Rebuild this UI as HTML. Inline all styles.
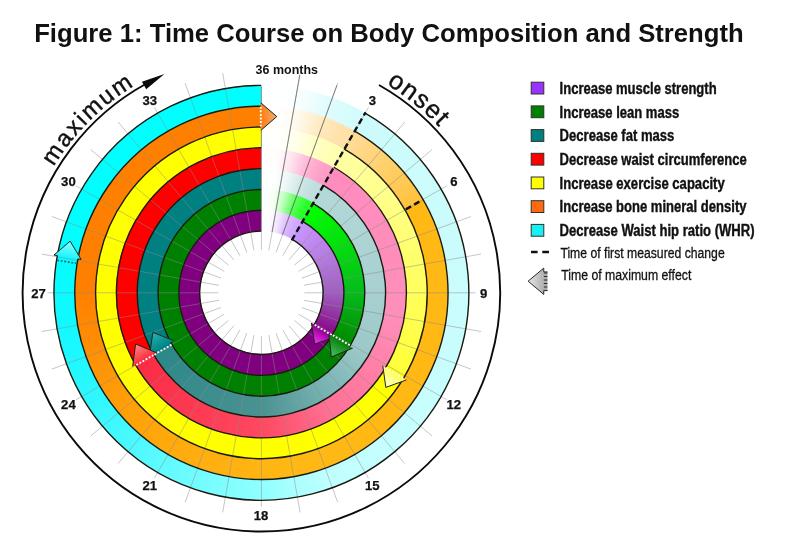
<!DOCTYPE html>
<html lang="en"><head><meta charset="utf-8"><title>Figure 1: Time Course on Body Composition and Strength</title>
<style>
html,body{margin:0;padding:0;background:#fff}
#fig{position:relative;width:800px;height:560px;overflow:hidden;background:#fff;font-family:"Liberation Sans",sans-serif}
.d{position:absolute;border-radius:50%}
svg{position:absolute;left:0;top:0}
text{font-family:"Liberation Sans",sans-serif;fill:#111}
.b{font-weight:bold}
</style></head><body><div id="fig">
<div class="d" style="left:53.96px;top:85.36px;width:414.88px;height:414.88px;background:conic-gradient(#ffffff 0deg,#feffff 7deg,#f3fefe 13deg,#dffcfc 20deg,#d6fcfc 26deg,#d4fcfc 30deg,#cdfbfb 30deg,#c8fefe 130deg,#c0ffff 160deg,#a6ffff 172deg,#90ffff 180deg,#70fcff 200deg,#4cf9ff 220deg,#2cf7ff 240deg,#12f9ff 260deg,#04fcff 280deg,#00ffff 280deg,#00ffff 360deg)"></div>
<div class="d" style="left:74.78px;top:106.18px;width:373.24px;height:373.24px;background:conic-gradient(#ffffff 0deg,#fffefc 7deg,#fff7e6 13deg,#ffe9bd 20deg,#ffe2ab 26deg,#ffe1a5 30deg,#ffdc98 30deg,#ffc23c 60deg,#ffb814 60deg,#ffb814 170deg,#ffb010 195deg,#ffa80c 215deg,#ff9c08 235deg,#ff8c04 255deg,#ff8000 270deg,#ff8000 360deg)"></div>
<div class="d" style="left:95.6px;top:127px;width:331.6px;height:331.6px;background:conic-gradient(#ffffff 0deg,#fffffc 7deg,#ffffe9 13deg,#ffffc5 20deg,#ffffb4 26deg,#ffffb0 30deg,#ffffa4 30deg,#ffff38 120deg,#ffff00 120deg,#ffff00 360deg)"></div>
<div class="d" style="left:116.42px;top:147.82px;width:289.96px;height:289.96px;background:conic-gradient(#ffffff 0deg,#fffcfd 7deg,#ffe3ef 13deg,#ffb5d5 20deg,#ffa1ca 26deg,#ff9bc6 30deg,#ff8cbe 30deg,#ff8eba 100deg,#ff7094 150deg,#ff4860 180deg,#fa2c44 240deg,#ff0000 240deg,#ff0000 360deg)"></div>
<div class="d" style="left:137.24px;top:168.64px;width:248.32px;height:248.32px;background:conic-gradient(#ffffff 0deg,#fdfefe 7deg,#edf6f6 13deg,#cfe6e6 20deg,#c2dfdf 26deg,#bedddd 30deg,#b4d8d8 30deg,#a8d0d0 90deg,#9cc8c8 120deg,#74b0b0 150deg,#4a9292 180deg,#2c8888 240deg,#008080 240deg,#008080 360deg)"></div>
<div class="d" style="left:158.06px;top:189.46px;width:206.68px;height:206.68px;background:conic-gradient(#ffffff 0deg,#f7fff7 7deg,#c2ffc2 13deg,#5cff5c 20deg,#2eff2e 26deg,#21ff21 30deg,#00ff00 30deg,#06bc1c 90deg,#008c00 120deg,#008000 120deg,#008000 360deg)"></div>
<div class="d" style="left:178.88px;top:210.28px;width:165.04px;height:165.04px;background:conic-gradient(#ffffff 0deg,#fdfcff 7deg,#f2e6ff 13deg,#dcbcff 20deg,#d2a9ff 26deg,#cfa4ff 30deg,#c896ff 30deg,#b67ce0 60deg,#a060c0 90deg,#9438a6 105deg,#8a0c8c 120deg,#800080 120deg,#800080 360deg)"></div>
<div class="d" style="left:199.7px;top:231.1px;width:123.4px;height:123.4px;background:#fff"></div>
<svg width="800" height="560" viewBox="0 0 800 560">
<defs>
<linearGradient id="g0" gradientUnits="userSpaceOnUse" x1="323.21" y1="329.94" x2="314.71" y2="344.08"><stop offset="0" stop-color="#8c008c"/><stop offset="1" stop-color="#ff30ff"/></linearGradient>
<linearGradient id="g1" gradientUnits="userSpaceOnUse" x1="340.8" y1="341.1" x2="331.35" y2="357.01"><stop offset="0" stop-color="#0c800c"/><stop offset="1" stop-color="#48c468"/></linearGradient>
<linearGradient id="g2" gradientUnits="userSpaceOnUse" x1="394.6" y1="372.83" x2="385.84" y2="387.4"><stop offset="0" stop-color="#ffff58"/><stop offset="1" stop-color="#ffffd8"/></linearGradient>
<linearGradient id="g3" gradientUnits="userSpaceOnUse" x1="161.64" y1="347.51" x2="152.89" y2="332.35"><stop offset="0" stop-color="#008686"/><stop offset="1" stop-color="#28b4b4"/></linearGradient>
<linearGradient id="g4" gradientUnits="userSpaceOnUse" x1="144.61" y1="359.65" x2="135.61" y2="344.06"><stop offset="0" stop-color="#ff2c3c"/><stop offset="1" stop-color="#ff8c8c"/></linearGradient>
<linearGradient id="g5" gradientUnits="userSpaceOnUse" x1="67.55" y1="257.27" x2="70.11" y2="241.17"><stop offset="0" stop-color="#20f4ff"/><stop offset="1" stop-color="#8cffff"/></linearGradient>
<linearGradient id="g6" gradientUnits="userSpaceOnUse" x1="260.78" y1="116.59" x2="276.78" y2="116.54"><stop offset="0" stop-color="#ff7c10"/><stop offset="1" stop-color="#f2ac70"/></linearGradient>
<linearGradient id="gl" x1="0" y1="0" x2="1" y2="0"><stop offset="0" stop-color="#e6e6e6"/><stop offset="1" stop-color="#a4a4a4"/></linearGradient>
</defs>
<path d="M261.4,249.8 L261.4,86.8 M268.87,250.45 L300.12,73.19 M276.11,252.39 L337.67,83.25 M282.9,255.56 L368.4,107.47 M289.04,259.86 L404.74,121.97 M294.34,265.16 L432.23,149.46 M298.64,271.3 L446.73,185.8 M301.81,278.09 L470.95,216.53 M303.75,285.33 L481.01,254.08 M304.4,292.8 L475.4,292.8 M303.75,300.27 L481.01,331.52 M301.81,307.51 L470.95,369.07 M298.64,314.3 L446.73,399.8 M294.34,320.44 L432.23,436.14 M289.04,325.74 L404.74,463.63 M282.9,330.04 L368.4,478.13 M276.11,333.21 L337.67,502.35 M268.87,335.15 L300.12,512.41 M261.4,335.8 L261.4,506.8 M253.93,335.15 L222.68,512.41 M246.69,333.21 L185.13,502.35 M239.9,330.04 L154.4,478.13 M233.76,325.74 L118.06,463.63 M228.46,320.44 L90.57,436.14 M224.16,314.3 L76.07,399.8 M220.99,307.51 L51.85,369.07 M219.05,300.27 L41.79,331.52 M218.4,292.8 L47.4,292.8 M219.05,285.33 L41.79,254.08 M220.99,278.09 L51.85,216.53 M224.16,271.3 L76.07,185.8 M228.46,265.16 L90.57,149.46 M233.76,259.86 L118.06,121.97 M239.9,255.56 L154.4,107.47 M246.69,252.39 L185.13,83.25 M253.93,250.45 L222.68,73.19" stroke="#8a8a8a" stroke-width="0.8" stroke-opacity="0.62" fill="none"/>
<path d="M272.11,232.04 L299.78,75.16 M282.5,234.82 L336.99,85.13" stroke="#505050" stroke-width="0.7" stroke-opacity="0.85" fill="none"/>
<path d="M292.25,239.37 A61.7 61.7 0 1 1 261.29,231.1 M302.66,221.34 A82.52 82.52 0 1 1 261.26,210.28 M313.07,203.3 A103.34 103.34 0 1 1 261.22,189.46 M323.48,185.27 A124.16 124.16 0 1 1 261.18,168.64 M333.89,167.24 A144.98 144.98 0 1 1 261.15,147.82 M344.3,149.21 A165.8 165.8 0 1 1 261.11,127 M354.71,131.18 A186.62 186.62 0 1 1 261.07,106.18 M365.12,113.15 A207.44 207.44 0 1 1 261.04,85.36" stroke="#1a1a10" stroke-width="1.4" fill="none"/>
<path d="M261.4,231.1 L261.4,85.36" stroke="#555" stroke-width="0.7" stroke-opacity="0.7"/>
<path d="M291.75,240.23 L365.62,112.29" stroke="#111" stroke-width="2.4" stroke-dasharray="6 3.6" fill="none"/>
<path d="M405.85,209.4 L422.58,199.74" stroke="#111" stroke-width="2.4" stroke-dasharray="6 3.6" fill="none"/>
<path d="M335.04,337.05 L314.71,344.08 L311.38,322.83" fill="url(#g0)" stroke="#20241c" stroke-width="1" stroke-linejoin="miter"/>
<path d="M331.7,335.04 L314.72,324.84" stroke="#fff" stroke-width="1.8" stroke-dasharray="2 1.6" fill="none"/>
<path d="M352.66,348.15 L331.35,357.01 L328.93,334.06" fill="url(#g1)" stroke="#20241c" stroke-width="1" stroke-linejoin="miter"/>
<path d="M349.83,345.3 L332.78,335.19" stroke="#fff" stroke-width="1.8" stroke-dasharray="2 1.6" fill="none"/>
<path d="M406.42,379.94 L385.84,387.4 L382.77,365.72" fill="url(#g2)" stroke="#20241c" stroke-width="1" stroke-linejoin="miter"/>
<path d="M403.09,377.94 L386.1,367.73" stroke="#fff" stroke-width="1.8" stroke-dasharray="2 1.6" fill="none"/>
<path d="M149.69,354.41 L152.89,332.35 L173.59,340.61" fill="url(#g3)" stroke="#20241c" stroke-width="1" stroke-linejoin="miter"/>
<path d="M154.31,354.63 L171.47,344.72" stroke="#fff" stroke-width="1.8" stroke-dasharray="2 1.6" fill="none"/>
<path d="M132.66,366.55 L135.61,344.06 L156.56,352.75" fill="url(#g4)" stroke="#20241c" stroke-width="1" stroke-linejoin="miter"/>
<path d="M136.28,365.04 L153.44,355.13" stroke="#fff" stroke-width="1.8" stroke-dasharray="2 1.6" fill="none"/>
<path d="M53.92,255.09 L70.11,241.17 L81.17,259.44" fill="url(#g5)" stroke="#20241c" stroke-width="1" stroke-linejoin="miter"/>
<path d="M53.92,255.09 L57.27,255.63 M81.17,259.44 L77.83,258.9" stroke="#20241c" stroke-width="1" fill="none"/>
<path d="M57.04,260.25 L76.61,263.37" stroke="#0a7a80" stroke-width="1.8" stroke-dasharray="2 1.6" fill="none"/>
<path d="M260.74,102.79 L276.78,116.54 L260.83,130.39" fill="url(#g6)" stroke="#20241c" stroke-width="1" stroke-linejoin="miter"/>
<path d="M260.75,106.68 L260.82,126.5" stroke="#fff" stroke-width="1.8" stroke-dasharray="2 1.6" fill="none"/>
<path d="M378.97,85 A238.75 238.75 0 1 1 145.65,83.98" stroke="#0a0a0a" stroke-width="1.9" fill="none"/>
<path d="M141.96,81.7 L164.45,73.92 L146.2,89.18 Z" fill="#0a0a0a"/>
<path id="pm" d="M33.05,209.69 A243 243 0 0 1 219.2,53.49" fill="none"/>
<path id="po" d="M344.51,64.45 A243 243 0 0 1 489.75,209.69" fill="none"/>
<text font-size="23.5" letter-spacing="2.1" stroke="#111" stroke-width="0.45"><textPath href="#pm" startOffset="47.92">maximum</textPath></text>
<text font-size="25.5" letter-spacing="1.3" stroke="#111" stroke-width="0.4"><textPath href="#po" startOffset="46.44">onset</textPath></text>
<text class="b" font-size="13.1" stroke="#111" stroke-width="0.25" text-anchor="middle" x="372.35" y="104.91">3</text>
<text class="b" font-size="13.1" stroke="#111" stroke-width="0.25" text-anchor="middle" x="453.79" y="186.35">6</text>
<text class="b" font-size="13.1" stroke="#111" stroke-width="0.25" text-anchor="middle" x="483.6" y="297.6">9</text>
<text class="b" font-size="13.1" stroke="#111" stroke-width="0.25" text-anchor="middle" x="453.79" y="408.85">12</text>
<text class="b" font-size="13.1" stroke="#111" stroke-width="0.25" text-anchor="middle" x="372.35" y="490.29">15</text>
<text class="b" font-size="13.1" stroke="#111" stroke-width="0.25" text-anchor="middle" x="261.1" y="520.1">18</text>
<text class="b" font-size="13.1" stroke="#111" stroke-width="0.25" text-anchor="middle" x="149.85" y="490.29">21</text>
<text class="b" font-size="13.1" stroke="#111" stroke-width="0.25" text-anchor="middle" x="68.41" y="408.85">24</text>
<text class="b" font-size="13.1" stroke="#111" stroke-width="0.25" text-anchor="middle" x="38.6" y="297.6">27</text>
<text class="b" font-size="13.1" stroke="#111" stroke-width="0.25" text-anchor="middle" x="68.41" y="186.35">30</text>
<text class="b" font-size="13.1" stroke="#111" stroke-width="0.25" text-anchor="middle" x="149.85" y="104.91">33</text>
<text class="b" font-size="12.6" x="255.6" y="74.4" textLength="62.4" lengthAdjust="spacingAndGlyphs">36 months</text>
<text class="b" font-size="25" x="34.2" y="42.4" textLength="709.5" lengthAdjust="spacingAndGlyphs">Figure 1: Time Course on Body Composition and Strength</text>
<rect x="531.2" y="82.2" width="12.6" height="11.8" fill="#9933ff" stroke="#30302a" stroke-width="1"/>
<text class="b" font-size="15.8" stroke="#111" stroke-width="0.4" x="559.6" y="93.8" textLength="157" lengthAdjust="spacingAndGlyphs">Increase muscle strength</text>
<rect x="531.2" y="105.9" width="12.6" height="11.8" fill="#008000" stroke="#30302a" stroke-width="1"/>
<text class="b" font-size="15.8" stroke="#111" stroke-width="0.4" x="559.6" y="117.5" textLength="119.6" lengthAdjust="spacingAndGlyphs">Increase lean mass</text>
<rect x="531.2" y="129.6" width="12.6" height="11.8" fill="#008080" stroke="#30302a" stroke-width="1"/>
<text class="b" font-size="15.8" stroke="#111" stroke-width="0.4" x="559.6" y="141.2" textLength="114.8" lengthAdjust="spacingAndGlyphs">Decrease fat mass</text>
<rect x="531.2" y="153.3" width="12.6" height="11.8" fill="#ff0000" stroke="#30302a" stroke-width="1"/>
<text class="b" font-size="15.8" stroke="#111" stroke-width="0.4" x="559.6" y="164.9" textLength="187.2" lengthAdjust="spacingAndGlyphs">Decrease waist circumference</text>
<rect x="531.2" y="177" width="12.6" height="11.8" fill="#ffff00" stroke="#30302a" stroke-width="1"/>
<text class="b" font-size="15.8" stroke="#111" stroke-width="0.4" x="559.6" y="188.6" textLength="165.1" lengthAdjust="spacingAndGlyphs">Increase exercise capacity</text>
<rect x="531.2" y="200.7" width="12.6" height="11.8" fill="#ff6a10" stroke="#30302a" stroke-width="1"/>
<text class="b" font-size="15.8" stroke="#111" stroke-width="0.4" x="559.6" y="212.3" textLength="186.9" lengthAdjust="spacingAndGlyphs">Increase bone mineral density</text>
<rect x="531.2" y="224.4" width="12.6" height="11.8" fill="#19f0f5" stroke="#30302a" stroke-width="1"/>
<text class="b" font-size="15.8" stroke="#111" stroke-width="0.4" x="559.6" y="236" textLength="195" lengthAdjust="spacingAndGlyphs">Decrease Waist hip ratio (WHR)</text>
<path d="M531 252 H537.6 M542.3 252 H549" stroke="#111" stroke-width="2.4" fill="none"/>
<text font-size="15.4" stroke="#111" stroke-width="0.3" x="560.4" y="257.8" textLength="164.3" lengthAdjust="spacingAndGlyphs">Time of first measured change</text>
<text font-size="15.4" stroke="#111" stroke-width="0.3" x="561.2" y="280.3" textLength="130.1" lengthAdjust="spacingAndGlyphs">Time of maximum effect</text>
<path d="M547.5 271.9 H543.75 V268.1 L528.1 281.2 L543.75 294.4 V290.6 H547.5" fill="url(#gl)" stroke="#2a2a2a" stroke-width="1" stroke-linejoin="miter"/>
<path d="M545.6 272.6 V290.4" stroke="#2a2a2a" stroke-width="3.4" stroke-dasharray="1 2.5"/>
</svg></div></body></html>
